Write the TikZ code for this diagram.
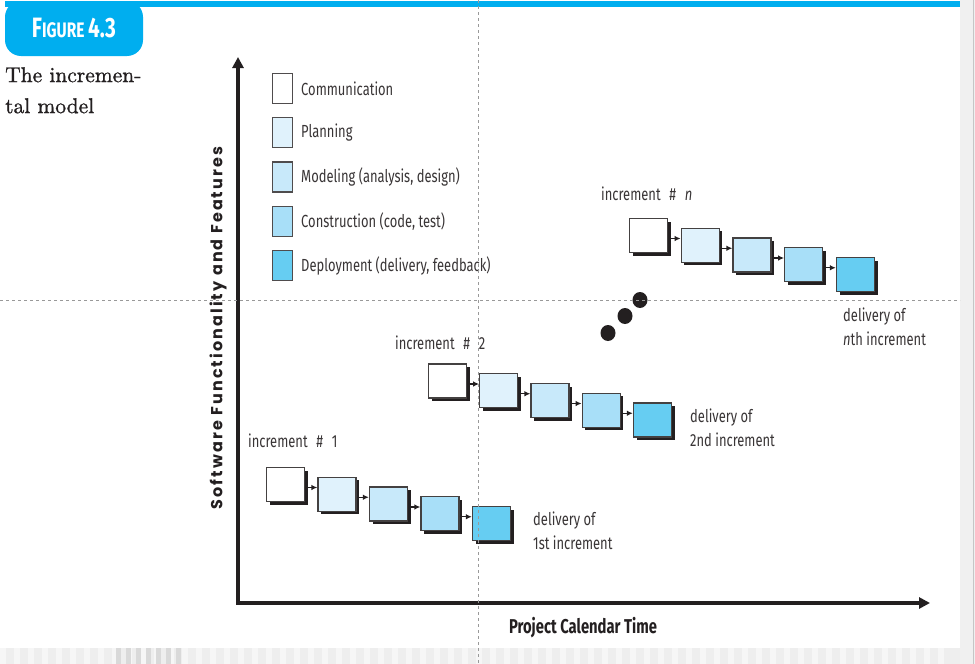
\documentclass[tikz,border=0pt]{standalone}
\usepackage{fontspec}
\newfontfamily\condf[FakeStretch=0.74]{Fira Sans}
\newfontfamily\geof[LetterSpace=13]{Poppins}
\newfontfamily\capf[FakeBold=1]{lmroman10-regular.otf}
\usetikzlibrary{arrows.meta,shadows}
\definecolor{figblue}{HTML}{00AEEF}
\definecolor{ink}{HTML}{231F20}
\definecolor{comm}{HTML}{FFFFFF}
\definecolor{plan}{HTML}{E0F2FC}
\definecolor{model}{HTML}{C8E9FA}
\definecolor{constr}{HTML}{A8DFF8}
\definecolor{deploy}{HTML}{66CDF2}
\tikzset{
  phase/.style={draw=ink!85, line width=1.2pt, minimum width=38pt, minimum height=34pt, inner sep=0pt,
    drop shadow={shadow xshift=3pt, shadow yshift=-3pt, opacity=1, fill=ink}},
  key/.style={draw=ink!80, line width=1.1pt, minimum width=20pt, minimum height=30pt, inner sep=0pt},
  lbl/.style={font=\condf\fontsize{17.5}{24}\selectfont, text=ink!90, inner sep=0pt, align=left},
  flow/.style={draw=ink, line width=1.4pt, -{Latex[length=6pt,width=5.5pt]}},
  guide/.style={draw=gray!80, dashed, line width=0.6pt}
}
\begin{document}
\begin{tikzpicture}[x=1pt,y=-1pt]
\useasboundingbox (0,0) rectangle (975,664);
% page furniture
\fill[white] (0,0) rectangle (975,664);
\fill[gray!12] (960,0) rectangle (975,664);
\draw[gray!45, line width=1pt] (973,0) -- (973,664);
\fill[gray!13] (0,648) rectangle (960,664);
\foreach \x in {0,14,...,950} \fill[gray!7] (\x,648) rectangle +(6,16);
\foreach \x in {116,126,...,176} \fill[gray!30] (\x,648) rectangle +(5,16);
\fill[figblue] (5,1) rectangle (960,6.5);
\fill[figblue, rounded corners=16pt] (5,1) rectangle (143,56);
\node[font=\condf\bfseries, text=white, inner sep=0pt] (fig) at (74,28)
  {\fontsize{28}{28}\selectfont F\fontsize{21}{21}\selectfont IGURE \fontsize{28}{28}\selectfont 4.3};
\node[anchor=north west, align=left, inner sep=0pt, text=ink, font=\capf\fontsize{21.5}{31}\selectfont] (cap) at (5,67)
  {The incremen-\\tal model};
% axes
\coordinate (ytop) at (238,57);
\coordinate (origin) at (238,603);
\coordinate (xend) at (930,603);
\draw[ink, line width=3.5pt, line join=miter, {Triangle[length=11pt,width=11pt]}-{Triangle[length=11pt,width=11pt]}]
  (ytop) -- (origin) -- (xend);
\node[rotate=90, font=\geof\bfseries\fontsize{16}{16}\selectfont, text=ink] (ylab) at (218,328)
  {Software Functionality and Features};
\node[font=\condf\bfseries\fontsize{20}{20}\selectfont, text=ink] (xlab) at (583,628) {Project Calendar Time};
% legend
\foreach \c/\t [count=\i from 0] in {comm/Communication, plan/Planning, model/{Modeling (analysis, design)},
    constr/{Construction (code, test)}, deploy/{Deployment (delivery, feedback)}}
{
  \node[key, fill=\c] (key\i) at (282.5,88.5+44.25*\i) {};
  \node[lbl, anchor=west] (keytxt\i) at (301,88.5+44.25*\i) {\t};
}
% increments
\foreach \k/\cx/\cy/\dx in {1/285.5/484.5/51.5, 2/447.5/381/51.25, n/648.5/235.5/51.75}
{
  \foreach \c [count=\i from 0] in {comm,plan,model,constr,deploy}
    \node[phase, fill=\c] (b\k\i) at (\cx+\dx*\i,\cy+9.75*\i) {};
  \foreach \i [evaluate=\i as \j using int(\i+1)] in {0,...,3}
    \draw[flow] ([yshift=-3pt]b\k\i.east) -- ([yshift=-3pt]b\k\i.east -| b\k\j.west);
}
\node[lbl, anchor=west] (inc1) at (248,441) {increment\enspace\#\enspace 1};
\node[lbl, anchor=west] (inc2) at (395,343) {increment\enspace\#\enspace 2};
\node[lbl, anchor=west] (incn) at (601,194) {increment\enspace\#\enspace\textit{n}};
\node[lbl, anchor=west] (del1) at (533,531) {delivery of\\1st increment};
\node[lbl, anchor=west] (del2) at (690,427.5) {delivery of\\2nd increment};
\node[lbl, anchor=west] (deln) at (843,326.5) {delivery of\\\textit{n}th increment};
% more increments
\fill[ink] (608,333) circle[x radius=7.5pt, y radius=8pt];
\fill[ink] (625,316) circle[x radius=7.5pt, y radius=8pt];
\fill[ink] (640,300) circle[x radius=7.5pt, y radius=8pt];
% guides
\draw[guide] (478,0) -- (478,664);
\draw[guide] (0,300) -- (960,300);
\end{tikzpicture}
\end{document}
